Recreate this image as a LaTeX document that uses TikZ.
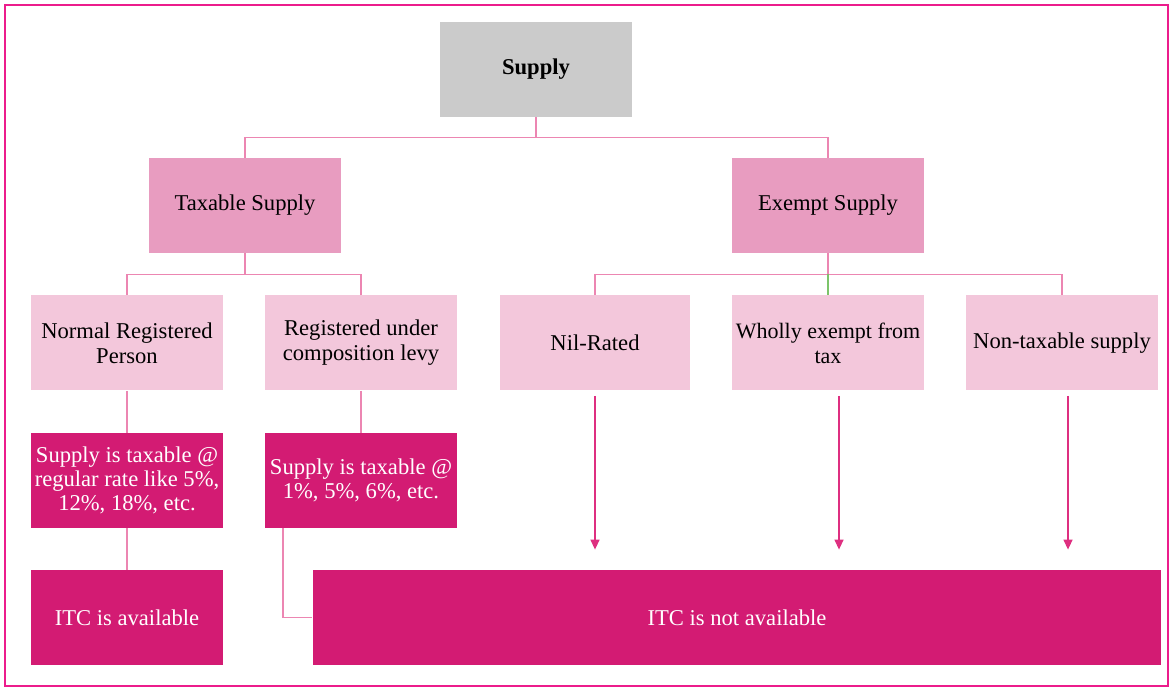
\documentclass[tikz,border=0pt]{standalone}
\usepackage{fontspec}
\setmainfont{Liberation Serif}
\usetikzlibrary{arrows.meta}

\definecolor{framepink}{HTML}{EC1C8C}
\definecolor{supplygrey}{HTML}{CBCBCB}
\definecolor{midpink}{HTML}{E89CC0}
\definecolor{lightpink}{HTML}{F3C7DB}
\definecolor{darkpink}{HTML}{D31B73}
\definecolor{linkpink}{HTML}{EC86B2}
\definecolor{arrowpink}{HTML}{DE2F80}
\definecolor{linkgreen}{HTML}{7CC46A}

\tikzset{
	box/.style={rectangle, align=center, inner sep=2pt, minimum height=47.5pt,
		font=\fontsize{11.3}{12.5}\selectfont},
	topbox/.style={box, fill=supplygrey, minimum width=96pt,
		font=\fontsize{11.3}{12.5}\selectfont\bfseries},
	kindbox/.style={box, fill=midpink, minimum width=96pt},
	casebox/.style={box, fill=lightpink, minimum width=96pt},
	ratebox/.style={box, fill=darkpink, text=white, minimum width=96pt,
		font=\fontsize{11.3}{12}\selectfont},
	itcbox/.style={box, fill=darkpink, text=white},
	link/.style={draw=linkpink, line width=0.7pt},
	flow/.style={draw=arrowpink, line width=0.7pt, -{Triangle[length=5pt,width=4.5pt]}}
}

\begin{document}
\begin{tikzpicture}[x=0.5pt, y=-0.5pt]
	\useasboundingbox (0,0) rectangle (1171,688);
	\draw[framepink, line width=1.1pt] (5,5) rectangle (1168,686);

	% top of the tree
	\node[topbox] (supply) at (536,69.5) {Supply};
	\node[kindbox] (taxable) at (245,205.5) {Taxable Supply};
	\node[kindbox] (exempt) at (828,205.5) {Exempt Supply};

	% second level
	\begin{scope}[every node/.style={casebox}]
		\node (normal) at (127,343) {Normal Registered\\Person};
		\node (composition) at (361,343) {Registered under\\composition levy};
		\node[minimum width=95pt] (nilrated) at (595,343) {Nil-Rated};
		\node[inner xsep=0pt, font=\fontsize{11}{12.5}\selectfont] (wholly) at (828,343) {Wholly exempt from\\tax};
		\node (nontaxable) at (1062,343) {Non-taxable supply};
	\end{scope}

	\node[ratebox] (normalrate) at (127,480.5) {Supply is taxable @\\regular rate like 5\%,\\12\%, 18\%, etc.};
	\node[ratebox] (comprate) at (361,480.5) {Supply is taxable @\\1\%, 5\%, 6\%, etc.};

	\node[itcbox, minimum width=96pt] (itcyes) at (127,617.5) {ITC is available};
	\node[itcbox, minimum width=424.3pt] (itcno) at (737,617.5) {ITC is not available};

	% connectors
	\draw[link] (supply.south) -- ++(0,-10pt) -| (taxable.north);
	\draw[link] (supply.south) -- ++(0,-10pt) -| (exempt.north);
	\draw[link] (taxable.south) -- ++(0,-10.5pt) -| (normal.north);
	\draw[link] (taxable.south) -- ++(0,-10.5pt) -| (composition.north);
	\draw[link] (exempt.south) -- ++(0,-10.5pt) -| (nilrated.north);
	\draw[link] (exempt.south) -- ++(0,-10.5pt) -| (nontaxable.north);
	\draw[link, draw=linkgreen] ([yshift=-10.5pt]exempt.south) -- (wholly.north);
	\draw[link] (normal) -- (normalrate);
	\draw[link] (composition) -- (comprate);
	\draw[link] (normalrate) -- (itcyes);
	\draw[link] ([xshift=9.25pt]comprate.south west) |- (itcno.west);

	\draw[flow] ([yshift=-2.5pt]nilrated.south) -- ([yshift=10pt]nilrated.south |- itcno.north);
	\draw[flow] ([xshift=5.5pt,yshift=-2.5pt]wholly.south) -- ([xshift=5.5pt,yshift=10pt]wholly.south |- itcno.north);
	\draw[flow] ([xshift=3pt,yshift=-2.5pt]nontaxable.south) -- ([xshift=3pt,yshift=10pt]nontaxable.south |- itcno.north);
\end{tikzpicture}
\end{document}
